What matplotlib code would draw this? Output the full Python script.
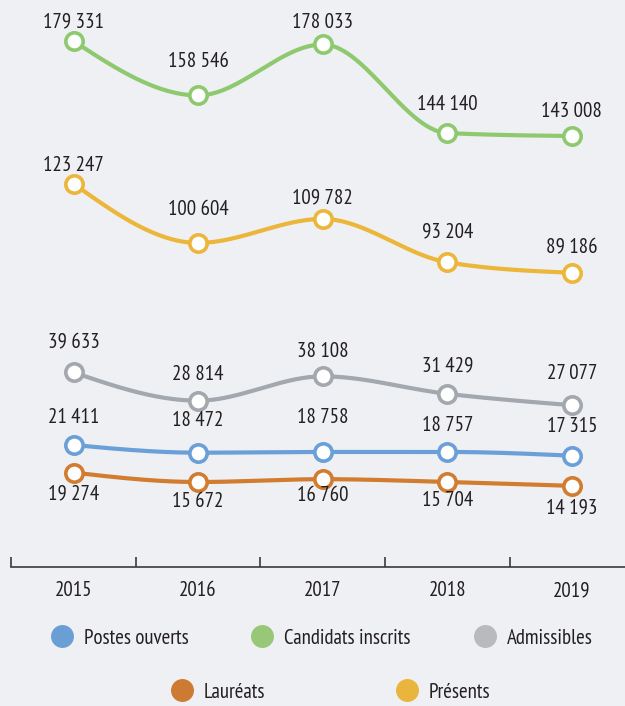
import numpy as np
import matplotlib
matplotlib.use("Agg")
import matplotlib.pyplot as plt
import matplotlib.transforms as mtransforms
from matplotlib.lines import Line2D
from matplotlib import font_manager

# ---------------- data ----------------
years = [2015, 2016, 2017, 2018, 2019]
postes_ouverts = [21411, 18472, 18758, 18757, 17315]
candidats_inscrits = [179331, 158546, 178033, 144140, 143008]
admissibles = [39633, 28814, 38108, 31429, 27077]
laureats = [19274, 15672, 16760, 15704, 14193]
presents = [123247, 100604, 109782, 93204, 89186]
series_names = ["Postes ouverts", "Candidats inscrits", "Admissibles", "Lauréats", "Présents"]

# ---------------- style ----------------
BG = "#eff0f4"
TXT = "#231f20"
colors = {
    "Postes ouverts": "#6a9fd8",
    "Candidats inscrits": "#8fc96f",
    "Admissibles": "#a3a8ae",
    "Lauréats": "#d27c30",
    "Présents": "#ebb63a",
}
legend_colors = {
    "Postes ouverts": "#6a9fd6",
    "Candidats inscrits": "#98c877",
    "Admissibles": "#b8babe",
    "Lauréats": "#cd7a32",
    "Présents": "#e9b53c",
}
# display shift (pixels) applied to each series for readability, as in the original
shift_px = {
    "Postes ouverts": 7,
    "Candidats inscrits": -2,
    "Admissibles": 32,
    "Lauréats": -15,
    "Présents": 2,
}
# label offsets in pixels (positive = above the point)
label_dy = {
    "Postes ouverts": [28, 32, 34, 26, 29],
    "Candidats inscrits": [19, 34, 22, 29, 25],
    "Admissibles": [30, 26, 25, 28, 32],
    "Lauréats": [-21, -19, -16, -19, -22],
    "Présents": [18, 33, 21, 30, 25],
}

available = {f.name for f in font_manager.fontManager.ttflist}
FAM = None
for cand in ["PT Sans Narrow", "Roboto Condensed", "Fira Sans Condensed", "Archivo Narrow",
             "Asap Condensed", "Liberation Sans Narrow", "Roboto"]:
    if cand in available:
        FAM = cand
        break
plt.rcParams["font.family"] = [FAM, "DejaVu Sans"] if FAM else ["DejaVu Sans"]
FS = 15

W, H, DPI = 625, 706, 100
fig = plt.figure(figsize=(W / DPI, H / DPI), dpi=DPI, facecolor=BG)

# axes geometry in pixels
x_left_px = 11.2
step_px = 124.6
axis_y_px = 567   # from top
zero_px = 508     # pixel (from top) of value 0
px_per_unit = 0.002615

xlim = (2014.5, 2019.5)
ax_w_px = step_px * (xlim[1] - xlim[0])
ax = fig.add_axes([x_left_px / W, (H - axis_y_px) / H, ax_w_px / W, axis_y_px / H])
ax.set_facecolor(BG)
ax.set_xlim(*xlim)
ymin = -(axis_y_px - zero_px) / px_per_unit
ymax = zero_px / px_per_unit
ax.set_ylim(ymin, ymax)
ax.patch.set_alpha(0)


def monotone(xs, ys, n=60):
    xs = np.asarray(xs, float)
    ys = np.asarray(ys, float)
    h = np.diff(xs)
    s = np.diff(ys) / h
    m = np.zeros_like(ys)
    for i in range(1, len(ys) - 1):
        p = (s[i - 1] * h[i] + s[i] * h[i - 1]) / (h[i - 1] + h[i])
        m[i] = (np.sign(s[i - 1]) + np.sign(s[i])) * min(abs(s[i - 1]), abs(s[i]), 0.5 * abs(p))
    m[0] = (3 * s[0] - m[1]) / 2
    m[-1] = (3 * s[-1] - m[-2]) / 2
    X, Y = [], []
    for i in range(len(xs) - 1):
        t = np.linspace(0, 1, n)
        h00 = 2 * t**3 - 3 * t**2 + 1
        h10 = t**3 - 2 * t**2 + t
        h01 = -2 * t**3 + 3 * t**2
        h11 = t**3 - t**2
        X.append(xs[i] + t * h[i])
        Y.append(h00 * ys[i] + h10 * h[i] * m[i] + h01 * ys[i + 1] + h11 * h[i] * m[i + 1])
    return np.concatenate(X), np.concatenate(Y)


data = {
    "Postes ouverts": postes_ouverts,
    "Candidats inscrits": candidats_inscrits,
    "Admissibles": admissibles,
    "Lauréats": laureats,
    "Présents": presents,
}

def fmt(v):
    return f"{v:,}".replace(",", " ")

for name in series_names:
    vals = data[name]
    tr = mtransforms.offset_copy(ax.transData, fig=fig, x=0, y=shift_px[name], units="dots")
    sx, sy = monotone(years, vals)
    ax.plot(sx, sy, color=colors[name], lw=3, transform=tr, zorder=2, solid_capstyle="round")
    ax.plot(years, vals, linestyle="none", marker="o", markersize=12.5,
            markerfacecolor="white", markeredgecolor=colors[name], markeredgewidth=2.6,
            transform=tr, zorder=3)
    for i, (yr, v) in enumerate(zip(years, vals)):
        ax.annotate(fmt(v), xy=(yr, v), xycoords=tr,
                    xytext=(0, label_dy[name][i]), textcoords="offset pixels",
                    ha="center", va="center", fontsize=FS, color=TXT, zorder=4)

# axes styling
for sp in ["top", "right", "left"]:
    ax.spines[sp].set_visible(False)
ax.spines["bottom"].set_color("#3a3a3a")
ax.spines["bottom"].set_linewidth(1.2)
ax.set_yticks([])
ax.set_xticks([2014.5, 2015.5, 2016.5, 2017.5, 2018.5, 2019.5])
ax.set_xticklabels([])
ax.tick_params(axis="x", which="major", direction="in", length=7.5, width=1.2, color="#3a3a3a")
ax.set_xticks(years, minor=True)
ax.set_xticklabels([str(y) for y in years], minor=True)
ax.tick_params(axis="x", which="minor", length=0, pad=10, labelsize=FS, labelcolor=TXT)

# legend (two rows)
def handle(name):
    return Line2D([], [], linestyle="none", marker="o", markersize=15.5,
                  markerfacecolor=legend_colors[name], markeredgecolor=legend_colors[name])

row1 = ["Postes ouverts", "Candidats inscrits", "Admissibles"]
row2 = ["Lauréats", "Présents"]
leg1 = fig.legend([handle(n) for n in row1], row1, loc="center", bbox_to_anchor=(321 / W, 1 - 638 / H),
                  ncol=3, frameon=False, fontsize=FS, handletextpad=0.45, columnspacing=2.95,
                  labelcolor=TXT, handlelength=1.2)
leg2 = fig.legend([handle(n) for n in row2], row2, loc="center", bbox_to_anchor=(330 / W, 1 - 692 / H),
                  ncol=2, frameon=False, fontsize=FS, handletextpad=0.45, columnspacing=6.2,
                  labelcolor=TXT, handlelength=1.2)

fig.savefig("out.png", dpi=DPI, facecolor=BG)
